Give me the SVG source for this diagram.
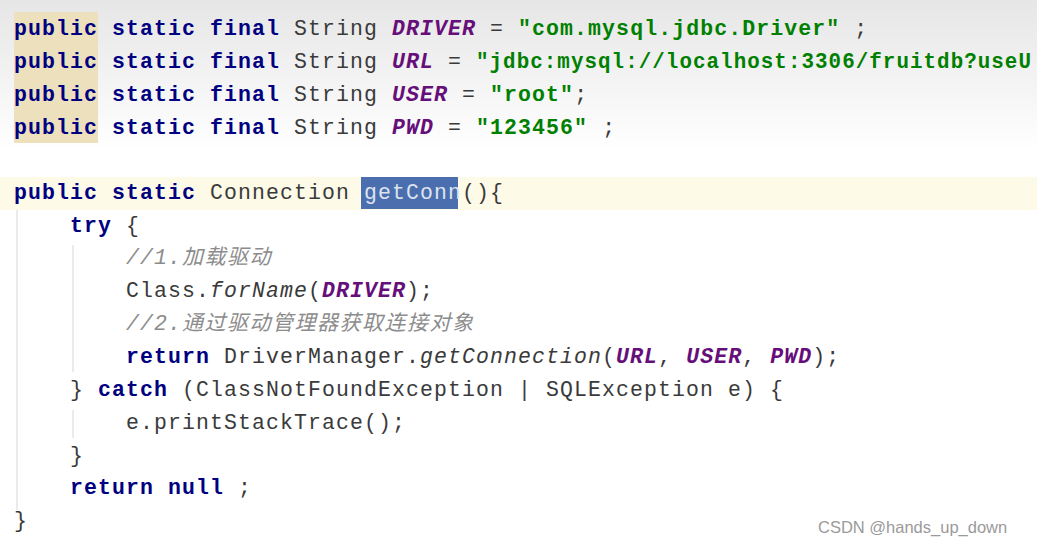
<svg xmlns="http://www.w3.org/2000/svg" width="1037" height="547" viewBox="0 0 1037 547">
<defs>
<linearGradient id="top" x1="0" y1="0" x2="0" y2="1"><stop offset="0" stop-color="#e6e6e6"/><stop offset="1" stop-color="#ffffff"/></linearGradient>
</defs>
<style>
text{font-family:"Liberation Mono","Noto Sans CJK SC",monospace;font-size:21.5px;letter-spacing:1.1px;fill:#3a3a3a;white-space:pre}
.k{fill:#000080;font-weight:bold}
.c{fill:#660e7a;font-weight:bold;font-style:italic}
.s{fill:#008000;font-weight:bold}
.m{fill:#8c8c8c;font-style:italic}
.i{font-style:italic}
.cj{font-size:21px;letter-spacing:1.5px}
.g{stroke:#e4e4e4;stroke-width:1.5}
</style>
<rect width="1037" height="547" fill="#fff"/>
<rect width="1037" height="150" fill="url(#top)"/>
<rect x="14" y="12" width="84" height="131" fill="#ede0bc"/>
<rect x="0" y="177" width="1037" height="33" fill="#fdfbe8"/>
<rect x="361" y="177" width="97" height="32" fill="#4b6eaf"/>
<line class="g" x1="17" y1="210" x2="17" y2="510"/>
<line class="g" x1="73" y1="245" x2="73" y2="372"/>
<line class="g" x1="73" y1="410" x2="73" y2="438"/>
<g id="code">
<text x="14" y="35"><tspan class="k">public static final</tspan> String <tspan class="c">DRIVER</tspan> = <tspan class="s">"com.mysql.jdbc.Driver"</tspan> ;</text>
<text x="14" y="68"><tspan class="k">public static final</tspan> String <tspan class="c">URL</tspan> =</text>
<text x="476" y="68" class="s" textLength="556" lengthAdjust="spacingAndGlyphs">"jdbc:mysql://localhost:3306/fruitdb?useU</text>
<text x="14" y="101"><tspan class="k">public static final</tspan> String <tspan class="c">USER</tspan> = <tspan class="s">"root"</tspan>;</text>
<text x="14" y="134"><tspan class="k">public static final</tspan> String <tspan class="c">PWD</tspan> = <tspan class="s">"123456"</tspan> ;</text>
<text x="14" y="199"><tspan class="k">public static</tspan> Connection <tspan fill="#dde3ee">getConn</tspan>(){</text>
<text x="70" y="232"><tspan class="k">try</tspan> {</text>
<text x="126" y="264" class="m">//1.<tspan class="cj">加载驱动</tspan></text>
<text x="126" y="297">Class.<tspan class="i">forName</tspan>(<tspan class="c">DRIVER</tspan>);</text>
<text x="126" y="330" class="m">//2.<tspan class="cj">通过驱动管理器获取连接对象</tspan></text>
<text x="126" y="363"><tspan class="k">return</tspan> DriverManager.<tspan class="i">getConnection</tspan>(<tspan class="c">URL</tspan>, <tspan class="c">USER</tspan>, <tspan class="c">PWD</tspan>);</text>
<text x="70" y="396">} <tspan class="k">catch</tspan> (ClassNotFoundException | SQLException e) {</text>
<text x="126" y="429">e.printStackTrace();</text>
<text x="70" y="462">}</text>
<text x="70" y="494"><tspan class="k">return null</tspan> ;</text>
<text x="14" y="527">}</text>
</g>
<text x="818" y="533" style="font-family:'Liberation Sans','Noto Sans',sans-serif;font-size:16.5px;letter-spacing:0;fill:#9a9a9a">CSDN @hands_up_down</text>
</svg>
